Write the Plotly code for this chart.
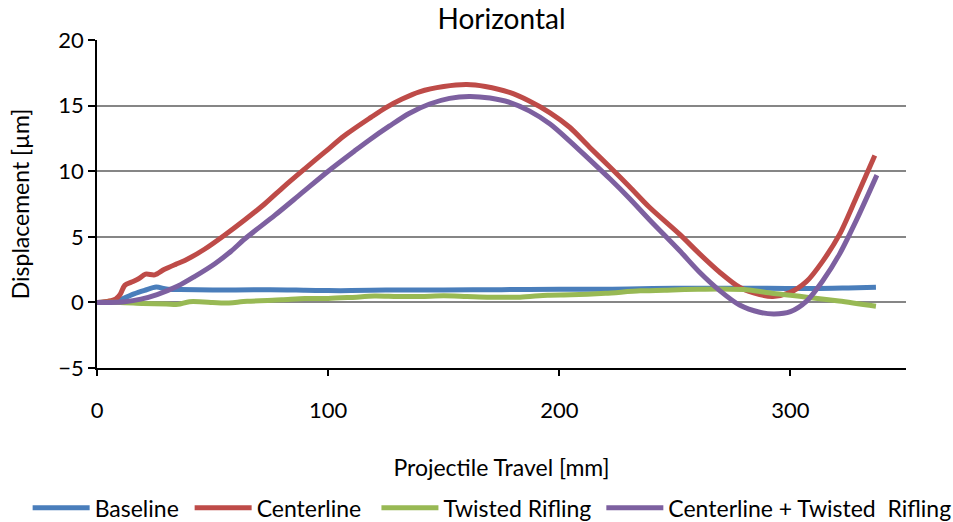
import plotly.graph_objects as go

# Horizontal displacement along projectile travel
baseline_x = [0, 8, 12, 16, 20.6, 25.6, 30, 36, 50, 60, 75, 90, 100, 110, 125, 150, 175, 200, 215, 230, 250, 270, 290, 310, 325, 337]
baseline_y = [0, 0.1, 0.35, 0.65, 0.92, 1.18, 1.02, 0.98, 0.95, 0.95, 0.97, 0.93, 0.9, 0.9, 0.95, 0.95, 0.97, 1.0, 1.0, 1.02, 1.08, 1.08, 1.08, 1.05, 1.1, 1.15]

center_x = [0, 5, 8, 10, 12, 15, 18, 21, 25, 29, 34, 38, 46.5, 55, 64, 72.5, 81, 90, 98.5, 107, 118.5, 125, 132, 139.5, 150, 160, 168, 178.5, 187, 196, 204.5, 213, 222, 230.5, 239, 252, 260.7, 269.4, 278, 286.7, 292.4, 299.7, 307, 314, 321.3, 328.5, 336.5]
center_y = [0, 0.1, 0.25, 0.6, 1.3, 1.55, 1.8, 2.15, 2.1, 2.5, 2.9, 3.2, 4.05, 5.1, 6.3, 7.5, 8.85, 10.2, 11.45, 12.7, 14.1, 14.85, 15.5, 16.05, 16.45, 16.6, 16.45, 16.0, 15.35, 14.45, 13.35, 11.85, 10.3, 8.8, 7.25, 5.2, 3.7, 2.3, 1.15, 0.6, 0.45, 0.75, 1.6, 3.15, 5.2, 8.0, 11.2]

twisted_x = [0, 10, 20, 30, 35, 40, 50, 55, 65, 80, 90, 100, 110, 120, 130, 140, 150, 160, 170, 183, 195, 205, 220, 235, 249, 260, 270, 282, 292, 300, 307, 321, 337]
twisted_y = [0, 0, -0.08, -0.12, -0.15, 0.05, 0.0, -0.05, 0.08, 0.2, 0.3, 0.3, 0.38, 0.48, 0.45, 0.45, 0.5, 0.45, 0.4, 0.4, 0.55, 0.58, 0.7, 0.88, 0.95, 1.0, 1.02, 0.95, 0.7, 0.55, 0.4, 0.1, -0.3]

combo_x = [0, 6, 12, 19, 26, 35, 42, 51, 58, 64, 77, 88, 100, 111.5, 118, 126.6, 135, 143.9, 152.5, 161, 170, 178.5, 187, 196, 204.5, 213, 222, 230.5, 239, 252, 260.7, 269.4, 278, 286.7, 293, 300, 307, 314, 321.3, 328.5, 337.4]
combo_y = [0, 0.0, 0.05, 0.25, 0.6, 1.25, 1.95, 2.95, 3.9, 4.85, 6.65, 8.25, 10.0, 11.55, 12.4, 13.45, 14.4, 15.12, 15.55, 15.7, 15.58, 15.25, 14.6, 13.6, 12.3, 10.9, 9.4, 7.9, 6.3, 3.95, 2.3, 0.9, -0.2, -0.75, -0.88, -0.7, 0.1, 1.65, 3.7, 6.25, 9.7]

series = [
    ("Baseline", baseline_x, baseline_y, "#4A7EBB"),
    ("Centerline", center_x, center_y, "#BE4B48"),
    ("Twisted Rifling", twisted_x, twisted_y, "#98B954"),
    ("Centerline + Twisted  Rifling", combo_x, combo_y, "#7D60A0"),
]

# left edge (container fraction) of each legend entry along the bottom row
legend_left = [0.029, 0.199, 0.395, 0.631]

FONT = "Lato, Carlito, Calibri, 'Open Sans', sans-serif"

fig = go.Figure()
legend_layout = {}
for i, (name, xs, ys, color) in enumerate(series):
    key = "legend" if i == 0 else f"legend{i + 1}"
    fig.add_trace(go.Scatter(
        x=xs, y=ys, name=name, mode="lines", legend=key,
        line=dict(color=color, width=5, shape="spline", smoothing=0.8),
    ))
    legend_layout[key] = dict(
        orientation="h", xref="container", x=legend_left[i], xanchor="left",
        yref="container", y=0.027, yanchor="middle",
        font=dict(family=FONT, size=23, color="black"),
        itemwidth=57, bgcolor="rgba(0,0,0,0)",
    )

fig.update_layout(
    width=953, height=522,
    margin=dict(l=97, r=47, t=40, b=154),
    paper_bgcolor="white", plot_bgcolor="white",
    font=dict(family=FONT, size=22, color="black"),
    title=dict(text="Horizontal", x=0.5, xref="paper", xanchor="center",
               y=0.963, yref="container", yanchor="middle",
               font=dict(family=FONT, size=28, color="black")),
    showlegend=True,
    **legend_layout,
)

fig.update_xaxes(
    range=[0, 350], tickvals=[0, 100, 200, 300], ticktext=["0", "100", "200", "300"],
    showgrid=False, zeroline=False, automargin=False,
    showline=True, linecolor="black", linewidth=1.5,
    ticks="outside", ticklen=6, tickwidth=1.5, tickcolor="black",
    ticklabelstandoff=16,
    tickfont=dict(family=FONT, size=22, color="black"),
    title=dict(text="Projectile Travel [mm]", standoff=38,
               font=dict(family=FONT, size=23, color="black")),
)

fig.update_yaxes(
    range=[-5, 20], tickvals=[-5, 0, 5, 10, 15, 20],
    showgrid=True, gridcolor="#868686", gridwidth=1.5,
    zeroline=False, automargin=False,
    showline=True, linecolor="black", linewidth=1.5,
    ticks="outside", ticklen=7, tickwidth=1.5, tickcolor="black",
    tickfont=dict(family=FONT, size=22, color="black"),
    title=dict(text="Displacement [µm]", standoff=22,
               font=dict(family=FONT, size=23, color="black")),
)

fig.write_html("out.html")
